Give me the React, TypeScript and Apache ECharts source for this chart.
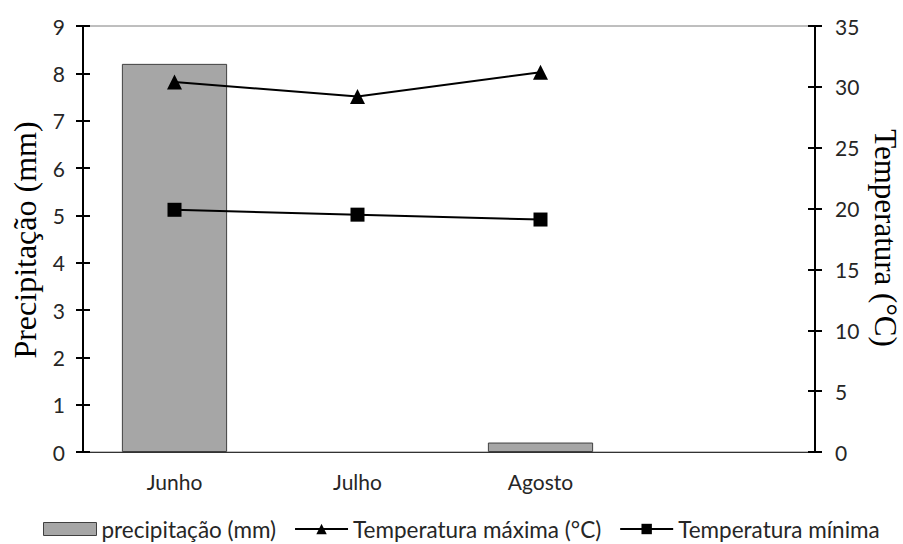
import React, { useEffect, useRef } from "react";
import * as echarts from "echarts";

const categories = ["Junho", "Julho", "Agosto", ""];
const precipitation = [8.2, 0, 0.2, null];
const tempMax = [30.4, 29.2, 31.2, null];
const tempMin = [19.9, 19.5, 19.1, null];
const leftTicks = { min: 0, max: 9, interval: 1 };
const rightTicks = { min: 0, max: 35, interval: 5 };

const SANS = "Lato";
const SERIF = "Liberation Serif";

export default function App() {
  const ref = useRef<HTMLDivElement>(null);
  useEffect(() => {
    if (!ref.current) return;
    const chart = echarts.init(ref.current, null, { renderer: "svg" });
    const labelStyle = { fontFamily: SANS, fontSize: 21, color: "#262626" };
    const tickStyle = { lineStyle: { color: "#000", width: 2 } };
    chart.setOption({
      animation: false,
      backgroundColor: "#fff",
      grid: {
        left: 83,
        right: 88,
        top: 26,
        bottom: 92,
        show: true,
        borderColor: "#7f7f7f",
        borderWidth: 1,
        backgroundColor: "transparent",
      },
      legend: {
        left: 38,
        top: 511,
        itemWidth: 53,
        itemHeight: 13,
        itemGap: 18,
        textStyle: { fontFamily: SANS, fontSize: 22.5, lineHeight: 26, color: "#262626" },
        data: [
          {
            name: "precipitação (mm)",
            icon: "rect",
            itemStyle: { color: "#a6a6a6", borderColor: "#404040", borderWidth: 1 },
          },
          { name: "Temperatura máxima (°C)" },
          { name: "Temperatura mínima" },
        ],
      },
      xAxis: {
        type: "category",
        data: categories,
        boundaryGap: true,
        axisLine: { show: true, lineStyle: { color: "#333", width: 1 } },
        axisTick: { show: false },
        axisLabel: { ...labelStyle, margin: 19, interval: 0 },
        splitLine: { show: false },
      },
      yAxis: [
        {
          type: "value",
          position: "left",
          ...leftTicks,
          axisLine: { show: true, lineStyle: { color: "#000", width: 2 } },
          axisTick: { show: true, length: 7, ...tickStyle },
          axisLabel: { ...labelStyle, margin: 18 },
          splitLine: { show: false },
        },
        {
          type: "value",
          position: "right",
          ...rightTicks,
          axisLine: { show: true, lineStyle: { color: "#000", width: 2 } },
          axisTick: { show: true, length: 7, ...tickStyle },
          axisLabel: { ...labelStyle, margin: 20 },
          splitLine: { show: false },
        },
        {
          type: "value",
          position: "left",
          ...leftTicks,
          axisLine: { show: false },
          axisTick: { show: true, inside: true, length: 7, ...tickStyle },
          axisLabel: { show: false },
          splitLine: { show: false },
        },
        {
          type: "value",
          position: "right",
          ...rightTicks,
          axisLine: { show: false },
          axisTick: { show: true, inside: true, length: 7, ...tickStyle },
          axisLabel: { show: false },
          splitLine: { show: false },
        },
      ],
      series: [
        {
          name: "precipitação (mm)",
          type: "bar",
          yAxisIndex: 0,
          data: precipitation.map((v) =>
            v === 0 ? { value: v, itemStyle: { borderWidth: 0 } } : v
          ),
          barWidth: "57.5%",
          itemStyle: { color: "#a6a6a6", borderColor: "#404040", borderWidth: 1 },
        },
        {
          name: "Temperatura máxima (°C)",
          type: "line",
          yAxisIndex: 1,
          data: tempMax,
          symbol: "triangle",
          symbolSize: 15,
          lineStyle: { color: "#000", width: 2 },
          itemStyle: { color: "#000" },
          z: 5,
        },
        {
          name: "Temperatura mínima",
          type: "line",
          yAxisIndex: 1,
          data: tempMin,
          symbol: "rect",
          symbolSize: 14,
          lineStyle: { color: "#000", width: 2 },
          itemStyle: { color: "#000" },
          z: 5,
        },
      ],
      graphic: [
        {
          type: "text",
          x: 25,
          y: 240,
          rotation: Math.PI / 2,
          style: {
            text: "Precipitação (mm)",
            fontFamily: SERIF,
            fontSize: 32,
            fill: "#000",
            textAlign: "center",
            textVerticalAlign: "middle",
          },
        },
        {
          type: "text",
          x: 885,
          y: 238,
          rotation: -Math.PI / 2,
          style: {
            text: "Temperatura (°C)",
            fontFamily: SERIF,
            fontSize: 31,
            fill: "#000",
            textAlign: "center",
            textVerticalAlign: "middle",
          },
        },
      ],
    });
    return () => chart.dispose();
  }, []);
  return (
    <div
      ref={ref}
      style={{ position: "fixed", left: 0, top: 0, width: 903, height: 544 }}
    />
  );
}
